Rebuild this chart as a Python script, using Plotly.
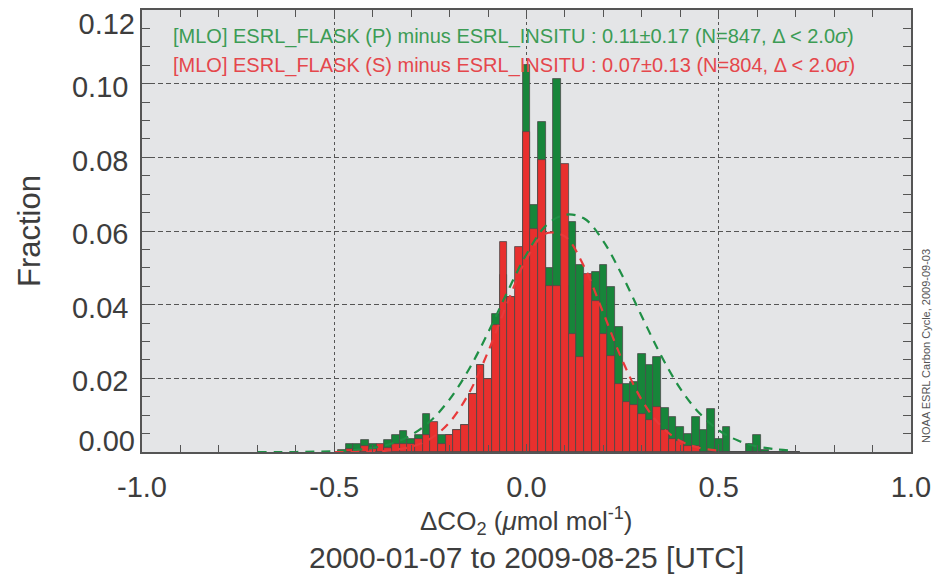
import plotly.graph_objects as go

# Histogram bins (centre of each 0.02-wide bin, in umol/mol)
bin_centers = [round(-0.48 + 0.02 * i, 2) for i in range(60)]

# Fraction of samples per bin: flask (P) minus in-situ
frac_p = [
    0.0000, 0.0023, 0.0023, 0.0033, 0.0023, 0.0015, 0.0033, 0.0045, 0.0057, 0.0035,
    0.0045, 0.0104, 0.0045, 0.0045, 0.0045, 0.0059, 0.0072, 0.0158, 0.0235, 0.0199,
    0.0376, 0.0480, 0.0420, 0.0300, 0.1050, 0.0670, 0.0896, 0.0500, 0.1014, 0.0450,
    0.0625, 0.0507, 0.0450, 0.0490, 0.0507, 0.0448, 0.0340, 0.0186, 0.0190, 0.0267,
    0.0235, 0.0258, 0.0120, 0.0095, 0.0068, 0.0050, 0.0095, 0.0060, 0.0118, 0.0036,
    0.0068, 0.0000, 0.0000, 0.0023, 0.0045, 0.0006, 0.0000, 0.0000, 0.0000, 0.0000,
]

# Fraction of samples per bin: flask (S) minus in-situ
frac_s = [
    0.0005, 0.0008, 0.0005, 0.0015, 0.0008, 0.0023, 0.0012, 0.0023, 0.0023, 0.0023,
    0.0035, 0.0045, 0.0081, 0.0023, 0.0045, 0.0059, 0.0072, 0.0158, 0.0235, 0.0199,
    0.0344, 0.0570, 0.0420, 0.0557, 0.0869, 0.0606, 0.0794, 0.0450, 0.0450, 0.0783,
    0.0320, 0.0258, 0.0483, 0.0410, 0.0320, 0.0260, 0.0185, 0.0136, 0.0127, 0.0103,
    0.0086, 0.0122, 0.0060, 0.0035, 0.0030, 0.0015, 0.0015, 0.0000, 0.0000, 0.0000,
    0.0000, 0.0000, 0.0000, 0.0000, 0.0000, 0.0000, 0.0000, 0.0000, 0.0000, 0.0000,
]

# Fitted normal curves (dashed)
fit_p_x = [-0.70, -0.65, -0.60, -0.55, -0.50, -0.45, -0.40, -0.35, -0.30, -0.25,
           -0.20, -0.15, -0.10, -0.05, 0.00, 0.05, 0.10, 0.15, 0.20, 0.25,
           0.30, 0.35, 0.40, 0.45, 0.50, 0.55, 0.60, 0.65, 0.70]
fit_p_y = [0.0000, 0.0000, 0.0000, 0.0001, 0.0002, 0.0005, 0.0011, 0.0023, 0.0046, 0.0084,
           0.0143, 0.0224, 0.0324, 0.0434, 0.0537, 0.0614, 0.0644, 0.0634, 0.0572, 0.0477,
           0.0368, 0.0262, 0.0172, 0.0105, 0.0059, 0.0031, 0.0015, 0.0007, 0.0003]

fit_s_x = [-0.50, -0.45, -0.40, -0.35, -0.30, -0.25, -0.20, -0.15, -0.10, -0.05,
           0.00, 0.05, 0.10, 0.15, 0.20, 0.25, 0.30, 0.35, 0.40, 0.45, 0.50]
fit_s_y = [0.0000, 0.0000, 0.0001, 0.0005, 0.0014, 0.0036, 0.0081, 0.0159, 0.0272, 0.0404,
           0.0524, 0.0593, 0.0585, 0.0503, 0.0377, 0.0247, 0.0141, 0.0070, 0.0030, 0.0011, 0.0004]

x_ticks = [-1.0, -0.5, 0.0, 0.5, 1.0]
x_tick_labels = ["-1.0", "-0.5", "0.0", "0.5", "1.0"]
y_ticks = [0.00, 0.02, 0.04, 0.06, 0.08, 0.10, 0.12]
y_tick_labels = ["0.00", "0.02", "0.04", "0.06", "0.08", "0.10", "0.12"]

label_p = "[MLO] ESRL_FLASK (P) minus ESRL_INSITU : 0.11\u00b10.17 (N=847, \u0394 < 2.0<i>\u03c3</i>)"
label_s = "[MLO] ESRL_FLASK (S) minus ESRL_INSITU : 0.07\u00b10.13 (N=804, \u0394 < 2.0<i>\u03c3</i>)"

GREEN_BAR = "#17853a"
RED_BAR = "#e8302e"
GREEN_TXT = "#3c9c55"
RED_TXT = "#e5474c"
EDGE = "#4a4a4a"
AXIS = "#555555"
TEXT = "#3d3d3d"
FONT = "Liberation Sans, Arial, sans-serif"
TICK_FONT = dict(family=FONT, size=29, color=TEXT)

X_RANGE = [-1.0, 1.0]
Y_RANGE = [0, 0.12001]

fig = go.Figure()
fig.add_trace(go.Bar(x=bin_centers, y=frac_p, width=0.02,
                     marker=dict(color=GREEN_BAR, line=dict(color=EDGE, width=0.8)),
                     showlegend=False))
fig.add_trace(go.Bar(x=bin_centers, y=frac_s, width=0.02,
                     marker=dict(color=RED_BAR, line=dict(color=EDGE, width=0.8)),
                     showlegend=False))
fig.add_trace(go.Scatter(x=fit_p_x, y=fit_p_y, mode="lines", line_shape="spline",
                         line=dict(color="#1f8f45", width=2.2, dash="9px,7px"),
                         showlegend=False))
fig.add_trace(go.Scatter(x=fit_s_x, y=fit_s_y, mode="lines", line_shape="spline",
                         line=dict(color="#e8393a", width=2.2, dash="9px,7px"),
                         showlegend=False))

fig.add_annotation(x=-0.925, y=0.1129, xref="x", yref="y", text=label_p,
                   showarrow=False, xanchor="left", yanchor="middle",
                   font=dict(family=FONT, size=20, color=GREEN_TXT))
fig.add_annotation(x=-0.925, y=0.1050, xref="x", yref="y", text=label_s,
                   showarrow=False, xanchor="left", yanchor="middle",
                   font=dict(family=FONT, size=20, color=RED_TXT))

# Axis title lines under the x axis
fig.add_annotation(x=0.5, y=-0.157, xref="paper", yref="paper",
                   text="\u0394CO<sub>2</sub> (<i>\u03bc</i>mol mol<sup>-1</sup>)",
                   showarrow=False, xanchor="center", yanchor="middle",
                   font=dict(family=FONT, size=26, color=TEXT))
fig.add_annotation(x=0.5, y=-0.239, xref="paper", yref="paper",
                   text="2000-01-07 to 2009-08-25 [UTC]",
                   showarrow=False, xanchor="center", yanchor="middle",
                   font=dict(family=FONT, size=30, color=TEXT))

# Credit line along the right edge
fig.add_annotation(x=1.0195, y=0.24, xref="paper", yref="paper",
                   text="NOAA ESRL Carbon Cycle, 2009-09-03",
                   showarrow=False, textangle=-90, xanchor="center", yanchor="middle",
                   font=dict(family=FONT, size=11, color="#555555"))

axis_common = dict(
    showline=True, linecolor=AXIS, linewidth=1.5, mirror=True,
    ticks="inside", tickcolor=AXIS, ticklen=8, tickwidth=1,
    zeroline=False, automargin=False,
)
# label-only axes: the end labels are pulled inside the frame
label_axis = dict(range=Y_RANGE, overlaying="y", side="left", anchor="x",
                  showline=False, ticks="", showgrid=False, zeroline=False,
                  automargin=False, tickfont=TICK_FONT, ticklabelstandoff=6,
                  ticklabeloverflow="allow")

fig.update_layout(
    xaxis=dict(range=X_RANGE, tickvals=x_ticks, ticktext=x_tick_labels,
               showgrid=True, gridcolor=AXIS, gridwidth=1, griddash="3px,3px",
               tickfont=TICK_FONT, ticklabelstandoff=8,
               ticklabeloverflow="allow",
               minor=dict(dtick=0.1, ticks="inside", ticklen=7, tickcolor=AXIS, showgrid=False),
               **axis_common),
    yaxis=dict(range=Y_RANGE, tickvals=y_ticks[1:-1], ticktext=y_tick_labels[1:-1],
               showgrid=True, gridcolor=AXIS, gridwidth=1, griddash="5px,3px",
               tickfont=TICK_FONT, ticklabelstandoff=6,
               ticklabeloverflow="allow", ticklabelshift=3,
               minor=dict(dtick=0.005, ticks="inside", ticklen=8, tickcolor=AXIS, showgrid=False),
               title=dict(text="Fraction", font=dict(family=FONT, size=31, color=TEXT), standoff=22),
               **axis_common),
    yaxis3=dict(tickvals=y_ticks[-1:], ticktext=y_tick_labels[-1:], ticklabelshift=14, **label_axis),
    yaxis4=dict(tickvals=y_ticks[:1], ticktext=y_tick_labels[:1], ticklabelshift=-11, **label_axis),
    # tick marks along the top and right edges of the frame
    xaxis2=dict(range=X_RANGE, overlaying="x", side="top", anchor="y",
                tickvals=x_ticks, showticklabels=False, showgrid=False,
                minor=dict(dtick=0.1, ticks="inside", ticklen=7, tickcolor=AXIS, showgrid=False),
                **axis_common),
    yaxis2=dict(range=Y_RANGE, overlaying="y", side="right", anchor="x",
                tickvals=y_ticks, showticklabels=False, showgrid=False,
                minor=dict(dtick=0.005, ticks="inside", ticklen=8, tickcolor=AXIS, showgrid=False),
                **axis_common),
)

fig.add_trace(go.Scatter(x=[], y=[], xaxis="x2", yaxis="y2", showlegend=False, hoverinfo="skip"))
fig.add_trace(go.Scatter(x=[], y=[], xaxis="x", yaxis="y3", showlegend=False, hoverinfo="skip"))
fig.add_trace(go.Scatter(x=[], y=[], xaxis="x", yaxis="y4", showlegend=False, hoverinfo="skip"))

fig.update_layout(
    width=933, height=579,
    margin=dict(l=142, r=22, t=10, b=127, autoexpand=False),
    barmode="overlay", bargap=0,
    plot_bgcolor="#e4e5e7", paper_bgcolor="white",
    font=dict(family=FONT),
)

fig.write_html("out.html")
